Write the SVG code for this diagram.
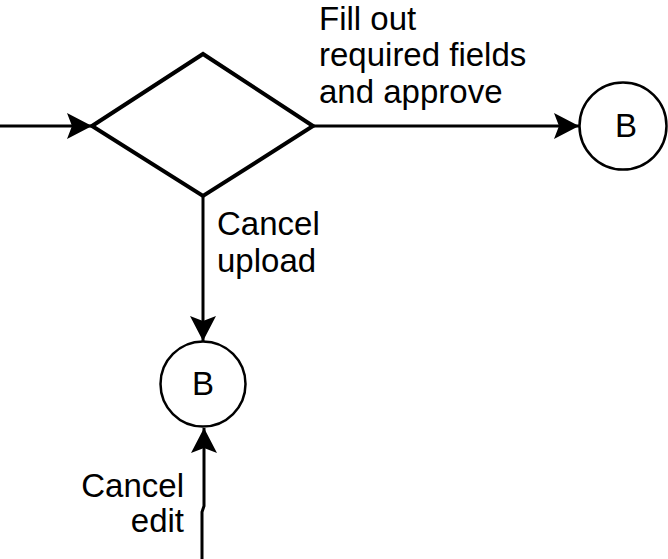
<svg xmlns="http://www.w3.org/2000/svg" width="668" height="559" viewBox="0 0 668 559">
<style>
.ln{fill:none;stroke:#000;stroke-width:3}
.nd{fill:#fff;stroke:#000;stroke-width:4}
.ci{fill:#fff;stroke:#000;stroke-width:2.5}
.t{font-family:"Liberation Sans",Arial,sans-serif;font-size:33px;fill:#000}
</style>
<defs>
<marker id="ah" markerUnits="userSpaceOnUse" markerWidth="30" markerHeight="30" refX="25" refY="13" orient="auto">
<path d="M25,13 L0,0 L5,13 L0,26 Z" fill="#000"/>
</marker>
</defs>
<rect width="668" height="559" fill="#fff"/>
<g id="connectors">
<line class="ln" x1="0" y1="126" x2="92" y2="126" marker-end="url(#ah)"/>
<line class="ln" x1="313" y1="126" x2="579" y2="126" marker-end="url(#ah)"/>
<line class="ln" x1="203" y1="197" x2="203" y2="341" marker-end="url(#ah)"/>
<path class="ln" d="M202,559 L202,512 L204,506 L204,450 L204,428" marker-end="url(#ah)"/>
</g>
<g id="decision">
<polygon class="nd" points="92,126 203,54 313,126 203,196"/>
</g>
<g id="connectorB1">
<circle class="ci" cx="623" cy="126" r="43.5"/>
<text class="t" x="626" y="137" text-anchor="middle">B</text>
</g>
<g id="connectorB2">
<circle class="ci" cx="203" cy="384" r="42.5"/>
<text class="t" x="203" y="395" text-anchor="middle">B</text>
</g>
<g id="labels">
<text class="t" x="319" y="30">Fill out</text>
<text class="t" x="319" y="66">required fields</text>
<text class="t" x="319" y="103">and approve</text>
<text class="t" x="217" y="235">Cancel</text>
<text class="t" x="217" y="272">upload</text>
<text class="t" x="184" y="497" text-anchor="end">Cancel</text>
<text class="t" x="184" y="532" text-anchor="end">edit</text>
</g>
</svg>
